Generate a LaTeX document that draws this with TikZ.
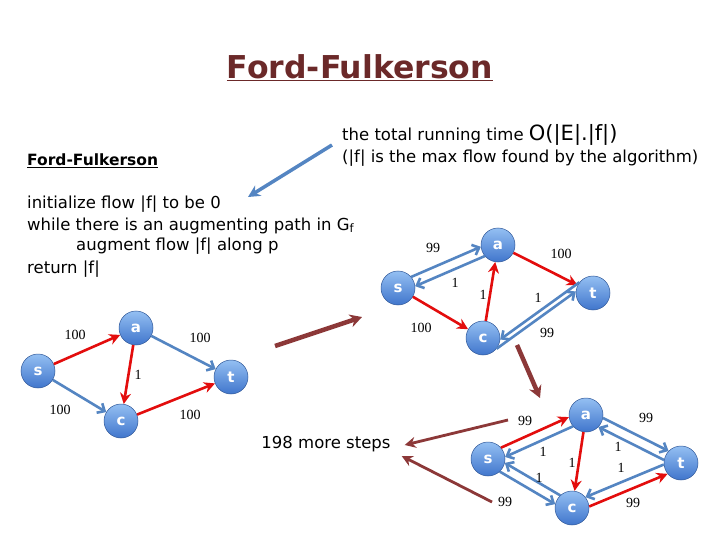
\documentclass[tikz,border=0pt]{standalone}
\usepackage{fontspec}
\setmainfont{Liberation Serif}
\newfontfamily\comicfont{DejaVu Sans}
\usetikzlibrary{arrows.meta}
\definecolor{flowred}{rgb}{0.89, 0.05, 0.05}
\definecolor{resblue}{rgb}{0.33, 0.52, 0.76}
\definecolor{stepbrown}{rgb}{0.55, 0.22, 0.22}
\definecolor{titlebrown}{rgb}{0.42, 0.16, 0.16}
\definecolor{nodetop}{rgb}{0.58, 0.75, 0.95}
\definecolor{nodebottom}{rgb}{0.25, 0.46, 0.80}
\tikzset{
    vtx/.style={circle, minimum size=34pt, inner sep=0pt, top color=nodetop, bottom color=nodebottom,
        draw=nodebottom!75!black, line width=0.5pt, text=white, font=\comicfont\fontsize{15}{15}\selectfont\bfseries},
    flowedge/.style={flowred, line width=2.6pt, -{Stealth[length=11pt,width=11pt]}},
    resedge/.style={resblue, line width=2.6pt, -{Straight Barb[length=6pt,width=11pt]}},
    lbl/.style={font=\fontsize{14}{14}\selectfont, inner sep=1pt},
    steparrow/.style={stepbrown, line width=4.5pt, -{Stealth[length=12pt,width=13pt]}},
    thinstep/.style={stepbrown, line width=2.8pt, -{Stealth[length=11pt,width=11pt]}},
    codeline/.style={anchor=base west, inner sep=0pt, font=\comicfont\fontsize{16.5}{16.5}\selectfont}
}

\begin{document}
\begin{tikzpicture}[x=1pt, y=-1pt]
    \useasboundingbox[fill=white] (0,0) rectangle (720,540);

    \node[text=titlebrown, font=\comicfont\fontsize{31.5}{31.5}\selectfont\bfseries] (Title) at (360,68) {\underline{Ford-Fulkerson}};

    \node[codeline, font=\comicfont\fontsize{15.5}{15.5}\selectfont\bfseries] (CodeTitle) at (27,166) {\underline{Ford-Fulkerson}};
    \node[codeline] (CodeInit) at (27,208) {initialize flow |f| to be 0};
    \node[codeline] (CodeWhile) at (27,230) {while there is an augmenting path in G\textsubscript{f}};
    \node[codeline] (CodeAug) at (76,251) {augment flow |f| along p};
    \node[codeline] (CodeRet) at (27,273) {return |f|};

    \node[codeline] (RunTime) at (342,141) {the total running time {\fontsize{21}{21}\selectfont O(|E|.|f|)}};
    \node[codeline] (MaxFlow) at (342,163) {(|f| is the max flow found by the algorithm)};
    \coordinate (NoteFrom) at (332,145);
    \coordinate (NoteTo) at (248,197);
    \draw[resblue, line width=3.5pt, -{Stealth[length=12pt,width=12pt]}] (NoteFrom) -- (NoteTo);

    % original network
    \node[vtx] (OrigS) at (38,371) {s};
    \node[vtx] (OrigA) at (136,328) {a};
    \node[vtx] (OrigT) at (231,377) {t};
    \node[vtx] (OrigC) at (121,421) {c};
    \draw[flowedge] (OrigS) -- (OrigA);
    \draw[resedge] (OrigS) -- (OrigC);
    \draw[flowedge] (OrigA) -- (OrigC);
    \draw[resedge] (OrigA) -- (OrigT);
    \draw[flowedge] (OrigC) -- (OrigT);
    \node[lbl] (OrigSA) at (75,335) {100};
    \node[lbl] (OrigAT) at (200,338) {100};
    \node[lbl] (OrigAC) at (138,375) {1};
    \node[lbl] (OrigSC) at (60,410) {100};
    \node[lbl] (OrigCT) at (190,415) {100};

    % residual network after one step
    \node[vtx] (ResS) at (398,288) {s};
    \node[vtx] (ResA) at (498,245) {a};
    \node[vtx] (ResT) at (593,293) {t};
    \node[vtx] (ResC) at (483,338) {c};
    \draw[resedge] (ResS.40) -- (ResA.186);
    \draw[resedge] (ResA.220) -- (ResS.6);
    \draw[flowedge] (ResS) -- (ResC);
    \draw[flowedge] (ResC) -- (ResA);
    \draw[flowedge] (ResA) -- (ResT);
    \draw[resedge] (ResC.-39) -- (ResT.175);
    \draw[resedge] (ResT.141) -- (ResC.-5);
    \node[lbl] (ResSA) at (433,248) {99};
    \node[lbl] (ResAS) at (455,283) {1};
    \node[lbl] (ResAT) at (561,254) {100};
    \node[lbl] (ResSC) at (421,328) {100};
    \node[lbl] (ResCA) at (483,295) {1};
    \node[lbl] (ResTC) at (538,298) {1};
    \node[lbl] (ResCT) at (547,333) {99};

    % residual network at the end
    \node[vtx] (LastS) at (488,459) {s};
    \node[vtx] (LastA) at (586,415) {a};
    \node[vtx] (LastT) at (681,463) {t};
    \node[vtx] (LastC) at (572,508) {c};
    \draw[flowedge] (LastS.41) -- (LastA.187);
    \draw[resedge] (LastA.221) -- (LastS.7);
    \draw[resedge] (LastS.-47) -- (LastC.167);
    \draw[resedge] (LastC.133) -- (LastS.-13);
    \draw[flowedge] (LastA) -- (LastC);
    \draw[resedge] (LastA.-10) -- (LastT.136);
    \draw[resedge] (LastT.170) -- (LastA.-44);
    \draw[flowedge] (LastC.5) -- (LastT.219);
    \draw[resedge] (LastT.185) -- (LastC.39);
    \node[lbl] (LastSA) at (525,421) {99};
    \node[lbl] (LastAS) at (543,452) {1};
    \node[lbl] (LastSC) at (505,502) {99};
    \node[lbl] (LastCS) at (539,478) {1};
    \node[lbl] (LastAC) at (572,463) {1};
    \node[lbl] (LastAT) at (646,418) {99};
    \node[lbl] (LastTA) at (618,447) {1};
    \node[lbl] (LastTC) at (621,468) {1};
    \node[lbl] (LastCT) at (633,503) {99};

    % steps between the networks
    \coordinate (StepOneFrom) at (275,346);
    \coordinate (StepOneTo) at (362,317);
    \draw[steparrow] (StepOneFrom) -- (StepOneTo);
    \coordinate (StepTwoFrom) at (517,345);
    \coordinate (StepTwoTo) at (540,398);
    \draw[steparrow] (StepTwoFrom) -- (StepTwoTo);

    \node[font=\comicfont\fontsize{16.5}{16.5}\selectfont, inner sep=0pt] (MoreSteps) at (326,444) {198 more steps};
    \coordinate (MoreTopFrom) at (508,420);
    \coordinate (MoreLowFrom) at (492,502);
    \draw[thinstep] (MoreTopFrom) -- ([xshift=14pt,yshift=-1pt]MoreSteps.east);
    \draw[thinstep] (MoreLowFrom) -- ([xshift=11pt,yshift=-12pt]MoreSteps.east);
\end{tikzpicture}
\end{document}
